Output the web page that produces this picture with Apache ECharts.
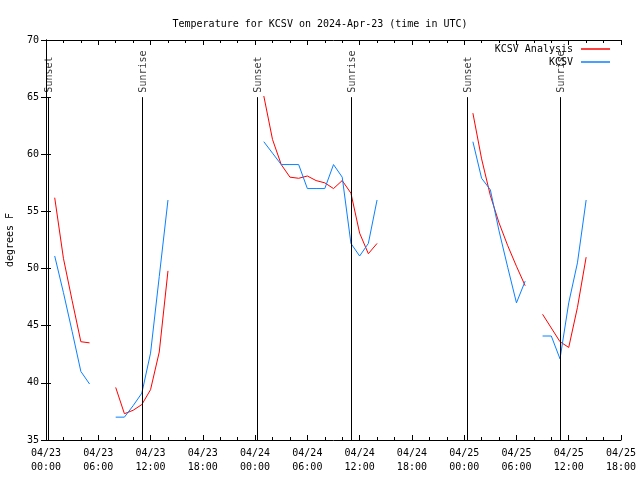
<!DOCTYPE html>
<html>
<head>
<meta charset="utf-8">
<script src="https://cdn.jsdelivr.net/npm/echarts@6/dist/echarts.min.js"></script>
<style>
html,body{margin:0;padding:0;background:#fff;}
#chart{width:640px;height:480px;}
</style>
</head>
<body>
<div id="chart"></div>
<script>
// hours since 2024-04-23 00:00 UTC (0..62)
const hours = [0,1,2,3,4,5,6,7,8,9,10,11,12,13,14,15,16,17,18,19,20,21,22,23,24,25,26,27,28,29,30,31,32,33,34,35,36,37,38,39,40,41,42,43,44,45,46,47,48,49,50,51,52,53,54,55,56,57,58,59,60,61,62];

const analysisTemps = [
  null, 56.2, 50.9, 47.2, 43.6, 43.5, null, null,
  39.6, 37.3, 37.6, 38.1, 39.4, 42.7, 49.8,
  null, null, null, null, null, null, null, null, null, null,
  65.1, 61.3, 59.1, 58.0, 57.9, 58.1, 57.7, 57.5, 57.0, 57.7, 56.6, 53.1, 51.3, 52.2,
  null, null, null, null, null, null, null, null, null, null,
  63.6, 59.6, 56.4, 54.0, 52.0, 50.2, 48.5, null,
  46.0, 44.8, 43.6, 43.1, 46.6, 51.0
];

const observedTemps = [
  null, 51.1, 47.9, 44.5, 41.0, 39.9, null, null,
  37.0, 37.0, 38.0, 39.1, 42.6, 49.3, 56.0,
  null, null, null, null, null, null, null, null, null, null,
  61.1, 60.1, 59.1, 59.1, 59.1, 57.0, 57.0, 57.0, 59.1, 58.0, 52.2, 51.1, 52.2, 56.0,
  null, null, null, null, null, null, null, null, null, null,
  61.1, 57.9, 56.9, 53.3, 50.1, 47.0, 48.9, null,
  44.1, 44.1, 42.1, 47.0, 50.5, 56.0
];

// sun events (hours since 04/23 00:00 UTC)
const eventNames = ['Sunset', 'Sunrise', 'Sunset', 'Sunrise', 'Sunset', 'Sunrise'];
const eventHours = [0.23, 11.05, 24.2, 35.05, 48.35, 59.0];
const eventTop = 65;
const yMin = 35, yMax = 70;
const xMin = 0, xMax = 66;
const startDay = 23;
const monthLabel = '04';

const FONT = "'DejaVu Sans Mono', 'Liberation Mono', monospace";

function pair(vals) { return hours.map((h, i) => [h, vals[i]]); }
function pad(n) { return (n < 10 ? '0' : '') + n; }

const chart = echarts.init(document.getElementById('chart'), null, {renderer: 'canvas'});

const tickCommon = {
  axisLine: {show: true, lineStyle: {color: '#000', width: 1}},
  splitLine: {show: false}
};

const option = {
  animation: false,
  backgroundColor: '#fff',
  textStyle: {fontFamily: FONT, fontSize: 10, color: '#000'},
  title: {
    text: 'Temperature for KCSV on 2024-Apr-23 (time in UTC)',
    left: 'center', top: 14,
    textStyle: {fontFamily: FONT, fontSize: 10, fontWeight: 'normal', color: '#000'}
  },
  legend: [
    {
      data: ['KCSV Analysis'], right: 30, top: 44, orient: 'vertical', align: 'right',
      padding: 0, itemWidth: 29, itemHeight: 1.5, icon: 'rect',
      textStyle: {fontFamily: FONT, fontSize: 10, color: '#000', padding: [0, 3, 0, 0]}
    },
    {
      data: ['KCSV'], right: 30, top: 57, orient: 'vertical', align: 'right',
      padding: 0, itemWidth: 29, itemHeight: 1.5, icon: 'rect',
      textStyle: {fontFamily: FONT, fontSize: 10, color: '#000', padding: [0, 3, 0, 0]}
    }
  ],
  grid: {left: 46, right: 19, top: 40, bottom: 40, containLabel: false, outerBoundsMode: 'none'},
  xAxis: [
    Object.assign({
      type: 'value', min: xMin, max: xMax, interval: 6, position: 'bottom',
      axisTick: {show: true, inside: true, length: 5, lineStyle: {color: '#000'}},
      minorTick: {show: true, splitNumber: 3, length: 3, lineStyle: {color: '#000'}},
      axisLabel: {
        margin: 6, lineHeight: 14, fontFamily: FONT, fontSize: 10, color: '#000',
        showMinLabel: true, showMaxLabel: true,
        formatter: function (v) {
          const d = startDay + Math.floor(v / 24);
          return monthLabel + '/' + pad(d) + '\n' + pad(v % 24) + ':00';
        }
      }
    }, tickCommon),
    Object.assign({
      type: 'value', min: xMin, max: xMax, interval: 6, position: 'top',
      axisTick: {show: true, inside: true, length: 5, lineStyle: {color: '#000'}},
      minorTick: {show: true, splitNumber: 3, length: 3, lineStyle: {color: '#000'}},
      axisLabel: {show: false}
    }, tickCommon)
  ],
  yAxis: [
    Object.assign({
      type: 'value', min: yMin, max: yMax, interval: 5, position: 'left',
      name: 'degrees F', nameLocation: 'middle', nameGap: 31,
      nameTextStyle: {fontFamily: FONT, fontSize: 10, color: '#000'},
      axisTick: {show: true, inside: true, length: 5, lineStyle: {color: '#000'}},
      axisLabel: {margin: 7, fontFamily: FONT, fontSize: 10, color: '#000'}
    }, tickCommon),
    Object.assign({
      type: 'value', min: yMin, max: yMax, interval: 5, position: 'right',
      axisTick: {show: true, inside: true, length: 5, lineStyle: {color: '#000'}},
      axisLabel: {show: false}
    }, tickCommon)
  ],
  series: [
    {
      name: 'KCSV Analysis', type: 'line', xAxisIndex: 0, yAxisIndex: 0,
      data: pair(analysisTemps), connectNulls: false,
      symbol: 'none', showSymbol: false,
      color: '#ff0000', lineStyle: {color: '#ff0000', width: 1}, z: 3
    },
    {
      name: 'KCSV', type: 'line', xAxisIndex: 0, yAxisIndex: 0,
      data: pair(observedTemps), connectNulls: false,
      symbol: 'none', showSymbol: false,
      color: '#0a80ff', lineStyle: {color: '#0a80ff', width: 1}, z: 4
    },
    {
      name: 'events', type: 'scatter', xAxisIndex: 0, yAxisIndex: 0,
      symbol: 'circle', symbolSize: 1, silent: true, z: 2,
      itemStyle: {color: 'rgba(0,0,0,0)'},
      data: eventHours.map((h, i) => ({name: eventNames[i], value: [h, eventTop]})),
      label: {
        show: true, position: [2, -4], rotate: 90, align: 'left', verticalAlign: 'middle',
        formatter: '{b}', fontFamily: FONT, fontSize: 10, color: '#000'
      },
      markLine: {
        silent: true, symbol: 'none', animation: false,
        label: {show: false},
        lineStyle: {color: '#000', width: 1, type: 'solid'},
        data: eventHours.map(h => [{coord: [h, yMin]}, {coord: [h, eventTop]}])
      }
    }
  ]
};

chart.setOption(option);
</script>
</body>
</html>
